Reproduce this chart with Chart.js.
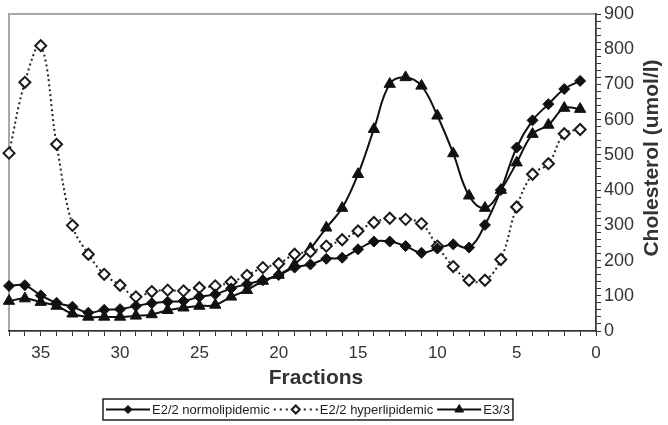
<!DOCTYPE html>
<html>
<head>
<meta charset="utf-8">
<script src="https://cdn.jsdelivr.net/npm/chart.js@4.4.0/dist/chart.umd.min.js"></script>
<style>
  html, body { margin: 0; padding: 0; background: #fff; }
  #wrap { width: 668px; height: 425px; }
</style>
</head>
<body>
<div id="wrap"><canvas id="chart" width="668" height="425"></canvas></div>
<script>
// fractions run from 37 (left) down to 1 (right)
const fractions = [37, 36, 35, 34, 33, 32, 31, 30, 29, 28, 27, 26, 25, 24, 23, 22, 21, 20, 19,
  18, 17, 16, 15, 14, 13, 12, 11, 10, 9, 8, 7, 6, 5, 4, 3, 2, 1];
const normolipidemic = [128, 130, 101, 80, 69, 52, 60, 62, 71, 79, 83, 85, 97, 104, 121, 133, 144, 159, 180,
  189, 205, 208, 232, 254, 254, 241, 222, 234, 246, 237, 301, 400, 521, 598, 644, 687, 710];
const hyperlipidemic = [505, 706, 810, 530, 300, 218, 161, 130, 97, 112, 116, 114, 123, 128, 139, 158, 180, 191, 218,
  225, 241, 259, 284, 308, 320, 317, 305, 241, 183, 144, 144, 203, 352, 445, 475, 560, 572];
const e33 = [85, 92, 82, 71, 49, 40, 40, 40, 43, 47, 59, 66, 71, 74, 97, 116, 142, 159, 189,
  234, 293, 349, 445, 573, 701, 720, 696, 611, 504, 384, 349, 400, 478, 559, 585, 633, 630];

const seriesNames = ['E2/2 normolipidemic', 'E2/2 hyperlipidemic', 'E3/3'];
const xTitle = 'Fractions';
const yTitle = 'Cholesterol (umol/l)';

const FONT = "'Liberation Sans', Arial, sans-serif";
const ink = '#111';
const textColor = '#333';

const toPoints = vals => vals.map((v, i) => ({ x: fractions[i], y: v }));

const datasets = [
  {
    label: seriesNames[0],
    data: toPoints(normolipidemic),
    borderColor: ink,
    borderWidth: 2,
    pointStyle: 'rectRot',
    pointRadius: 5.5,
    pointBackgroundColor: ink,
    pointBorderColor: ink,
    pointBorderWidth: 1,
    tension: 0.4,
  },
  {
    label: seriesNames[1],
    data: toPoints(hyperlipidemic),
    borderColor: '#222',
    borderWidth: 2,
    borderDash: [2, 3],
    pointStyle: 'rectRot',
    pointRadius: 5.5,
    pointBackgroundColor: '#fff',
    pointBorderColor: '#1a1a1a',
    pointBorderWidth: 2,
    tension: 0.4,
  },
  {
    label: seriesNames[2],
    data: toPoints(e33),
    borderColor: ink,
    borderWidth: 2,
    pointStyle: 'triangle',
    pointRadius: 6.5,
    pointBackgroundColor: ink,
    pointBorderColor: ink,
    pointBorderWidth: 1,
    tension: 0.4,
  },
];

const extras = {
  id: 'extras',
  beforeDraw(chart) {
    const { ctx, chartArea: a } = chart;
    ctx.save();
    ctx.fillStyle = '#fff';
    ctx.fillRect(0, 0, chart.width, chart.height);
    ctx.strokeStyle = '#a8a8a8';
    ctx.lineWidth = 2;
    ctx.strokeRect(a.left, a.top, a.right - a.left, a.bottom - a.top);
    ctx.restore();
  },
  afterDraw(chart) {
    const { ctx } = chart;
    ctx.save();
    // axis titles
    ctx.fillStyle = textColor;
    ctx.font = `bold 21px ${FONT}`;
    ctx.textAlign = 'center';
    ctx.textBaseline = 'middle';
    ctx.fillText(xTitle, 316, 378);
    ctx.translate(652, 158);
    ctx.rotate(-Math.PI / 2);
    ctx.fillText(yTitle, 0, 0);
    ctx.restore();

    // legend with line samples and markers, inside a box
    ctx.save();
    ctx.font = `13px ${FONT}`;
    const lineLen = 44, gap = 2, itemGap = 4, pad = 3;
    const widths = seriesNames.map(n => lineLen + gap + ctx.measureText(n).width);
    const total = widths.reduce((s, w) => s + w, 0) + itemGap * (widths.length - 1) + pad * 2;
    const boxL = Math.round(307.5 - total / 2), boxT = 399, boxH = 21;
    ctx.strokeStyle = '#222';
    ctx.lineWidth = 1.5;
    ctx.strokeRect(boxL, boxT, total, boxH);
    const cy = boxT + boxH / 2;
    let x = boxL + pad;
    datasets.forEach((ds, i) => {
      ctx.save();
      ctx.strokeStyle = ds.borderColor;
      ctx.lineWidth = ds.borderWidth;
      ctx.setLineDash(ds.borderDash ? [2, 4] : []);
      ctx.beginPath();
      ctx.moveTo(x, cy);
      ctx.lineTo(x + lineLen, cy);
      ctx.stroke();
      ctx.setLineDash([]);
      ctx.fillStyle = ds.pointBackgroundColor;
      ctx.strokeStyle = ds.pointBorderColor;
      ctx.lineWidth = ds.pointBorderWidth;
      Chart.helpers.drawPoint(ctx, {
        pointStyle: ds.pointStyle,
        radius: ds.pointRadius - 1.5,
        rotation: 0,
        borderWidth: ds.pointBorderWidth,
      }, x + lineLen / 2, cy);
      ctx.restore();
      ctx.fillStyle = '#222';
      ctx.textAlign = 'left';
      ctx.textBaseline = 'middle';
      ctx.fillText(seriesNames[i], x + lineLen + gap, cy + 0.5);
      x += widths[i] + itemGap;
    });
    ctx.restore();
  },
};

new Chart(document.getElementById('chart'), {
  type: 'line',
  data: { datasets },
  plugins: [extras],
  options: {
    responsive: false,
    devicePixelRatio: 1,
    animation: false,
    layout: { padding: { left: 9, top: 14, right: 0, bottom: 0 } },
    plugins: {
      legend: { display: false },
      tooltip: { enabled: false },
    },
    datasets: { line: { clip: 8 } },
    scales: {
      x: {
        type: 'linear',
        reverse: true,
        min: 0,
        max: 37,
        afterFit: s => { s.height = 94; },
        border: { color: '#333', width: 1.5 },
        grid: { drawOnChartArea: false, tickLength: 5, color: '#333' },
        ticks: {
          stepSize: 1,
          autoSkip: false,
          maxRotation: 0,
          padding: 7,
          color: textColor,
          font: { family: FONT, size: 17 },
          callback: v => (v % 5 === 0 ? String(v) : ''),
        },
      },
      y: {
        position: 'right',
        min: 0,
        max: 900,
        afterFit: s => { s.width = 72; },
        border: { color: '#333', width: 1.5 },
        grid: { drawOnChartArea: false, tickLength: 5, color: '#333' },
        ticks: {
          stepSize: 20,
          autoSkip: false,
          padding: 3,
          color: textColor,
          font: { family: FONT, size: 18 },
          callback: v => (v % 100 === 0 ? String(v) : ''),
        },
      },
    },
  },
});
</script>
</body>
</html>
